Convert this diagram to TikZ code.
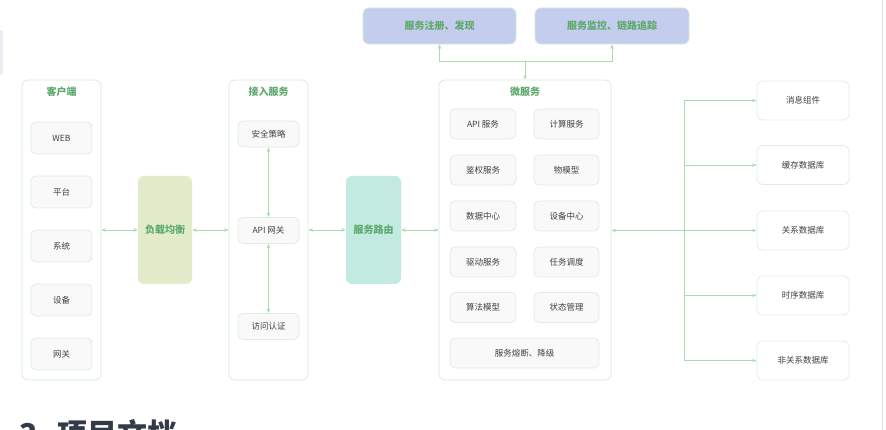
\documentclass[tikz,border=0pt]{standalone}
\usepackage{fontspec}
\setmainfont{Noto Sans CJK SC}
\newfontfamily\cjk{Noto Sans CJK SC}
\usetikzlibrary{arrows.meta,calc}
\definecolor{contborder}{HTML}{D6EED8}
\definecolor{boxborder}{HTML}{DDF0DF}
\definecolor{boxfill}{HTML}{F8F9F8}
\definecolor{titlegreen}{HTML}{5EA96C}
\definecolor{conncol}{HTML}{A9DCB2}
\definecolor{txt}{HTML}{404040}
\definecolor{olive}{HTML}{E2ECCB}
\definecolor{mint}{HTML}{C2EAE0}
\definecolor{lav}{HTML}{C5CDEE}
\definecolor{lavborder}{HTML}{D2E9D6}
\definecolor{headcol}{HTML}{333B48}
\tikzset{
  container/.style={draw=contborder, line width=0.8pt, rounded corners=6pt, fill=white, inner sep=0pt},
  title/.style={font=\cjk\bfseries\fontsize{10}{12}\selectfont, text=titlegreen, inner sep=0pt},
  sbox/.style={draw=boxborder, line width=0.8pt, fill=boxfill, rounded corners=5pt, font=\cjk\fontsize{8.5}{10}\selectfont, text=txt, inner sep=0pt},
  rbox/.style={draw=boxborder, line width=0.8pt, fill=white, rounded corners=6pt, minimum width=92pt, minimum height=39pt, font=\cjk\fontsize{8.5}{10}\selectfont, text=txt, inner sep=0pt},
  cbox/.style={rounded corners=6pt, font=\cjk\bfseries\fontsize{10}{12}\selectfont, text=titlegreen, inner sep=0pt},
  conn/.style={draw=conncol, line width=0.9pt, arrows={-}},
  tip/.style={-{Stealth[length=4.5pt,width=3.5pt]}},
  tips/.style={{Stealth[length=4.5pt,width=3.5pt]}-{Stealth[length=4.5pt,width=3.5pt]}},
}
\begin{document}
\begin{tikzpicture}[x=1pt,y=-1pt]
\useasboundingbox (0,0) rectangle (886,430);
\clip (0,0) rectangle (886,430);
\fill[white] (0,0) rectangle (886,430);
% page decorations
\fill[fill={rgb,255:red,233;green,237;blue,242}, rounded corners=3pt] (-5,30) rectangle (3,75);
\draw[draw={rgb,255:red,224;green,224;blue,224}, line width=1pt] (882.5,0) -- (882.5,430);
\node[anchor=base west, inner sep=0pt, font=\cjk\bfseries\fontsize{30}{30}\selectfont, text=headcol] (heading) at (19,445) {3. 项目文档};

% containers
\node[container, minimum width=79pt, minimum height=300pt] (client) at (61.5,230) {};
\node[title] (clientT) at (61.5,92) {客户端};
\node[container, minimum width=79pt, minimum height=300pt] (access) at (268.5,230) {};
\node[title] (accessT) at (268.5,92) {接入服务};
\node[container, minimum width=172pt, minimum height=300pt] (ms) at (525,230) {};
\node[title] (msT) at (525,92) {微服务};

% client boxes
\foreach \n/\t/\y in {web/WEB/138, plat/平台/192, sys/系统/246, dev/设备/300, gw/网关/354}{
  \node[sbox, minimum width=61pt, minimum height=32pt] (\n) at (61.5,\y) {\t};
}
% access boxes
\node[sbox, minimum width=61pt, minimum height=26pt] (sec) at (268.5,134) {安全策略};
\node[sbox, minimum width=61pt, minimum height=26pt] (api) at (268.5,230.5) {API 网关};
\node[sbox, minimum width=61pt, minimum height=26pt] (auth) at (268.5,326.5) {访问认证};

% middle colored boxes
\node[cbox, fill=olive, minimum width=54pt, minimum height=108pt] (lb) at (165,230) {负载均衡};
\node[cbox, fill=mint, minimum width=55pt, minimum height=108pt] (route) at (373.5,230) {服务路由};

% microservice boxes
\foreach \n/\t/\y in {apis/API 服务/124, auths/鉴权服务/170, datac/数据中心/216, drv/驱动服务/262, alg/算法模型/307.5}{
  \node[sbox, minimum width=66pt, minimum height=30pt] (\n) at (483,\y) {\t};
}
\foreach \n/\t/\y in {calc/计算服务/124, thing/物模型/170, devc/设备中心/216, task/任务调度/262, state/状态管理/307.5}{
  \node[sbox, minimum width=65pt, minimum height=30pt] (\n) at (566.5,\y) {\t};
}
\node[sbox, minimum width=149pt, minimum height=30pt] (fuse) at (524.5,353) {服务熔断、降级};

% top boxes
\node[cbox, fill=lav, draw=lavborder, line width=0.8pt, minimum width=153pt, minimum height=36pt] (reg) at (439.5,26) {服务注册、发现};
\node[cbox, fill=lav, draw=lavborder, line width=0.8pt, minimum width=154pt, minimum height=36pt] (mon) at (612,26) {服务监控、链路追踪};

% right boxes
\foreach \n/\t/\y in {msg/消息组件/100.5, cache/缓存数据库/165, rel/关系数据库/230.5, ts/时序数据库/295.5, nosql/非关系数据库/360.5}{
  \node[rbox] (\n) at (803,\y) {\t};
}

% connectors
\draw[conn, tips] (client.east) -- (lb.west);
\draw[conn, tips] (lb.east) -- (access.west);
\draw[conn, tips] (access.east) -- (route.west);
\draw[conn, tips] (route.east) -- (ms.west);
\draw[conn, tips] (sec.south) -- (api.north);
\draw[conn, tips] (api.south) -- (auth.north);

\coordinate (j) at ($(ms.north)+(0,-18)$);
\draw[conn, tip] (j) -- (ms.north);
\draw[conn, tip] (j) -| (reg.south);
\draw[conn, tip] (j) -| (mon.south);

\coordinate (trunk) at (684,0);
\draw[conn] (trunk |- msg) -- (trunk |- nosql);
\draw[conn, tips] (ms.east |- rel) -- (rel.west);
\foreach \n in {msg, cache, ts, nosql}{
  \draw[conn, tip] (trunk |- \n) -- (\n.west);
}
\end{tikzpicture}
\end{document}
